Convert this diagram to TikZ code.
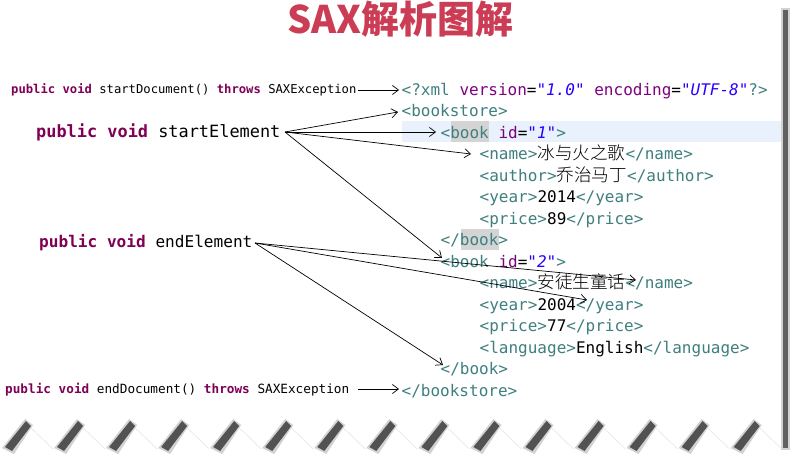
\documentclass[tikz,border=0pt]{standalone}
\usepackage{fontspec}
\usetikzlibrary{arrows.meta}
\setmonofont{DejaVu Sans Mono}
\newfontfamily\cjk{Noto Sans CJK SC Light}[Scale=1.1]
\newfontfamily\titlefont{Noto Sans CJK SC}
\definecolor{tagc}{HTML}{3F7F7F}
\definecolor{attc}{HTML}{7F007F}
\definecolor{valc}{HTML}{2A00FF}
\definecolor{kwc}{HTML}{7F0055}
\definecolor{titc}{HTML}{CB3D55}
\definecolor{rowhl}{HTML}{E8F1FC}
\definecolor{wordhl}{HTML}{D4D4D4}
\newcommand\xtg[1]{\textcolor{tagc}{#1}}
\newcommand\xat[1]{\textcolor{attc}{#1}}
\newcommand\xvl[1]{\textcolor{valc}{\itshape #1}}
\newcommand\jkw[1]{\textcolor{kwc}{\bfseries #1}}
\newcommand\zh[1]{{\cjk #1}}
\tikzset{
  xmlline/.style={anchor=base west, inner sep=0pt, font=\fontsize{16}{16}\selectfont\ttfamily},
  javasmall/.style={anchor=base west, inner sep=0pt, font=\fontsize{12.2}{12.2}\selectfont\ttfamily},
  javabig/.style={anchor=base west, inner sep=0pt, font=\fontsize{16.9}{16.9}\selectfont\ttfamily},
  arr/.style={-{Straight Barb[length=6pt,width=9pt]}, line width=0.7pt, black},
}
\begin{document}
\begin{tikzpicture}[x=1pt,y=-1pt]
\useasboundingbox (0,0) rectangle (798,463);
\fill[white] (0,0) rectangle (798,463);

% title
\node[anchor=base, inner sep=0pt, text=titc, font=\titlefont\bfseries\fontsize{38}{38}\selectfont] (title) at (400,33) {SAX解析图解};

% highlights
\fill[rowhl] (402,121) rectangle (782,142);
\fill[wordhl] (451,121) rectangle (489,142);
\fill[wordhl] (461,229) rectangle (499,250);

% right edge bar
\fill[gray!35] (781,8) rectangle (790,450);
\fill[black!62] (783,10) rectangle (788,448);

% bottom torn edge
\foreach \k in {0,...,14}{
  \pgfmathsetmacro\xk{26+52.05*\k}
  \draw[gray!22, line width=0.5pt] (\xk,423) -- (\xk+27,449);
  \fill[gray!35] (\xk-1,419) -- (\xk+7,425) -- (\xk-12,454) -- (\xk-24,448) -- cycle;
  \fill[black!68] (\xk,421) -- (\xk+5,426) -- (\xk-14,451) -- (\xk-21,447) -- cycle;
}

% XML lines
\node[xmlline] (l1) at (401.5,95) {\xtg{<?xml} \xat{version}=\xvl{"1.0"} \xat{encoding}=\xvl{"UTF-8"}\xtg{?>}};
\node[xmlline] (l2) at (401.5,116.5) {\xtg{<bookstore>}};
\node[xmlline] (l3) at (440.5,138) {\xtg{<book} \xat{id}=\xvl{"1"}\xtg{>}};
\node[xmlline] (l4) at (479.5,159.5) {\xtg{<name>}\zh{冰与火之歌}\xtg{</name>}};
\node[xmlline] (l5) at (479.5,181) {\xtg{<author>}\zh{乔治马丁}\xtg{</author>}};
\node[xmlline] (l6) at (479.5,202.5) {\xtg{<year>}2014\xtg{</year>}};
\node[xmlline] (l7) at (479.5,224) {\xtg{<price>}89\xtg{</price>}};
\node[xmlline] (l8) at (440.5,245.5) {\xtg{</book>}};
\node[xmlline] (l9) at (440.5,267) {\xtg{<book} \xat{id}=\xvl{"2"}\xtg{>}};
\node[xmlline] (l10) at (479.5,288.5) {\xtg{<name>}\zh{安徒生童话}\xtg{</name>}};
\node[xmlline] (l11) at (479.5,310) {\xtg{<year>}2004\xtg{</year>}};
\node[xmlline] (l12) at (479.5,331.5) {\xtg{<price>}77\xtg{</price>}};
\node[xmlline] (l13) at (479.5,353) {\xtg{<language>}English\xtg{</language>}};
\node[xmlline] (l14) at (440.5,374.5) {\xtg{</book>}};
\node[xmlline] (l15) at (401.5,396) {\xtg{</bookstore>}};

% Java lines
\node[javasmall] (sdoc) at (11,93.5) {\jkw{public} \jkw{void} startDocument() \jkw{throws} SAXException};
\node[javabig] (selem) at (36,137) {\jkw{public} \jkw{void} startElement};
\node[javabig, font=\fontsize{16.1}{16.1}\selectfont\ttfamily] (eelem) at (39,247) {\jkw{public} \jkw{void} endElement};
\node[javasmall, font=\fontsize{12.7}{12.7}\selectfont\ttfamily] (edoc) at (5,393.5) {\jkw{public} \jkw{void} endDocument() \jkw{throws} SAXException};

% connector ends
\coordinate (sdocS) at (358,90);
\coordinate (sdocT) at (399,90);
\coordinate (selS) at (285,132);
\coordinate (selT1) at (398,112);
\coordinate (selT2) at (436,132);
\coordinate (selT3) at (471,154);
\coordinate (selT4) at (442,258);
\coordinate (eelS) at (255,243);
\coordinate (eelT1) at (636,280);
\coordinate (eelT2) at (587,300);
\coordinate (eelT3) at (443,365);
\coordinate (edocS) at (358,389);
\coordinate (edocT) at (399,389);

\draw[arr] (sdocS) -- (sdocT);
\draw[arr] (selS) -- (selT1);
\draw[arr] (selS) -- (selT2);
\draw[arr] (selS) -- (selT3);
\draw[arr] (selS) -- (selT4);
\draw[arr] (eelS) -- (eelT1);
\draw[arr] (eelS) -- (eelT2);
\draw[arr] (eelS) -- (eelT3);
\draw[arr] (edocS) -- (edocT);
\end{tikzpicture}
\end{document}
